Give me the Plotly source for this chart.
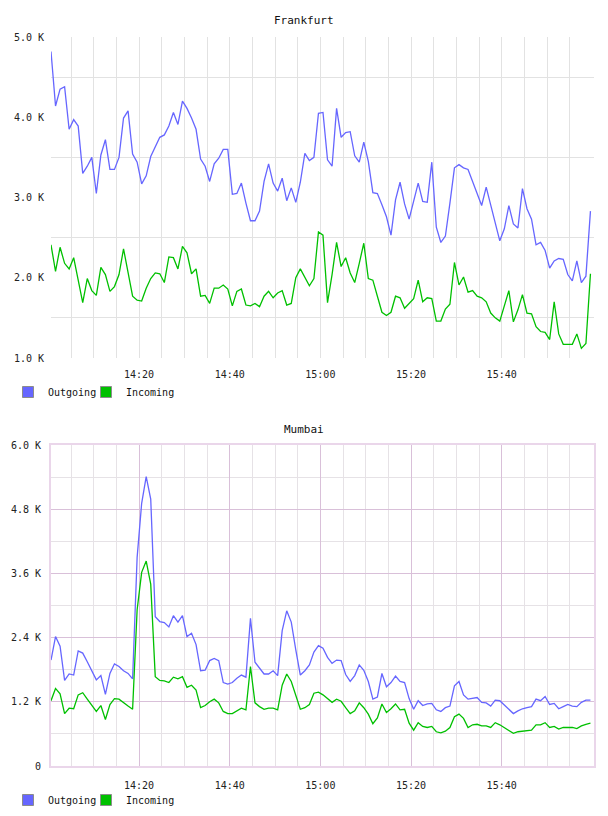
import plotly.graph_objects as go
import pandas as pd

# ---------------- data (values in thousands) ----------------
start_time = "2024-01-01 14:00:35"
n_points = 120
times = pd.date_range(start_time, periods=n_points, freq="1min")

frankfurt_outgoing = [
    4.82, 4.14, 4.35, 4.38, 3.85, 3.97, 3.89, 3.30, 3.39, 3.50,
    3.05, 3.53, 3.72, 3.35, 3.35, 3.50, 3.99, 4.08, 3.54, 3.44,
    3.17, 3.27, 3.51, 3.64, 3.75, 3.78, 3.89, 4.06, 3.91, 4.20,
    4.11, 3.99, 3.85, 3.48, 3.39, 3.20, 3.42, 3.49, 3.60, 3.60,
    3.04, 3.05, 3.18, 2.93, 2.71, 2.71, 2.83, 3.20, 3.42, 3.18,
    3.08, 3.24, 2.96, 3.12, 2.94, 3.19, 3.55, 3.46, 3.50, 4.05,
    4.06, 3.47, 3.39, 4.11, 3.75, 3.81, 3.82, 3.52, 3.44, 3.69,
    3.45, 3.06, 3.05, 2.91, 2.76, 2.53, 2.97, 3.19, 2.92, 2.73,
    2.96, 3.18, 2.95, 2.94, 3.44, 2.63, 2.44, 2.52, 2.93, 3.37,
    3.41, 3.37, 3.35, 3.20, 3.07, 2.90, 3.13, 2.90, 2.68, 2.46,
    2.61, 2.90, 2.67, 2.62, 3.11, 2.86, 2.73, 2.41, 2.44, 2.34,
    2.12, 2.21, 2.24, 2.23, 2.04, 1.96, 2.21, 1.94, 2.02, 2.83,
]
frankfurt_incoming = [
    2.41, 2.08, 2.38, 2.18, 2.11, 2.25, 1.97, 1.69, 1.99, 1.84,
    1.78, 2.13, 2.04, 1.83, 1.89, 2.04, 2.36, 2.06, 1.77, 1.72,
    1.71, 1.87, 1.99, 2.06, 2.05, 1.94, 2.26, 2.25, 2.11, 2.39,
    2.31, 2.05, 2.11, 1.77, 1.78, 1.68, 1.87, 1.87, 1.91, 1.86,
    1.65, 1.83, 1.86, 1.66, 1.65, 1.68, 1.64, 1.77, 1.83, 1.75,
    1.81, 1.84, 1.66, 1.68, 2.00, 2.11, 2.00, 1.90, 1.99, 2.57,
    2.53, 1.69, 2.04, 2.44, 2.14, 2.25, 2.06, 1.94, 2.18, 2.43,
    1.99, 1.97, 1.77, 1.57, 1.53, 1.57, 1.77, 1.75, 1.62, 1.68,
    1.74, 1.97, 1.70, 1.75, 1.74, 1.46, 1.46, 1.61, 1.67, 2.19,
    1.91, 2.01, 1.82, 1.84, 1.77, 1.75, 1.70, 1.56, 1.50, 1.46,
    1.65, 1.84, 1.45, 1.60, 1.79, 1.56, 1.55, 1.39, 1.33, 1.32,
    1.23, 1.70, 1.30, 1.17, 1.17, 1.17, 1.30, 1.12, 1.18, 2.05,
]
mumbai_outgoing = [
    1.98, 2.42, 2.24, 1.60, 1.72, 1.70, 2.15, 2.11, 1.95, 1.79,
    1.61, 1.69, 1.34, 1.73, 1.91, 1.86, 1.78, 1.73, 1.63, 3.90,
    4.91, 5.41, 4.99, 2.79, 2.70, 2.68, 2.60, 2.81, 2.69, 2.81,
    2.42, 2.48, 2.27, 1.78, 1.79, 1.97, 2.01, 1.97, 1.56, 1.53,
    1.56, 1.64, 1.70, 1.66, 2.76, 1.94, 1.83, 1.72, 1.72, 1.78,
    1.69, 2.53, 2.90, 2.69, 2.17, 1.70, 1.78, 1.89, 2.13, 2.25,
    2.20, 2.03, 1.92, 1.98, 1.97, 1.71, 1.58, 1.69, 1.89, 1.79,
    1.58, 1.25, 1.29, 1.73, 1.48, 1.56, 1.68, 1.58, 1.56, 1.26,
    1.06, 1.22, 1.13, 1.16, 1.17, 1.05, 1.02, 1.09, 1.12, 1.50,
    1.58, 1.33, 1.25, 1.26, 1.28, 1.19, 1.18, 1.12, 1.23, 1.22,
    1.14, 1.06, 0.98, 1.03, 1.07, 1.09, 1.11, 1.25, 1.22, 1.30,
    1.15, 1.17, 1.07, 1.11, 1.15, 1.12, 1.11, 1.19, 1.23, 1.23,
]
mumbai_incoming = [
    1.22, 1.45, 1.35, 0.98, 1.08, 1.07, 1.33, 1.37, 1.25, 1.13,
    1.02, 1.13, 0.87, 1.15, 1.26, 1.25, 1.18, 1.12, 1.06, 2.92,
    3.62, 3.83, 3.40, 1.67, 1.60, 1.59, 1.56, 1.66, 1.63, 1.67,
    1.47, 1.51, 1.42, 1.09, 1.13, 1.20, 1.25, 1.18, 1.02, 0.98,
    0.98, 1.03, 1.08, 1.05, 1.86, 1.18, 1.11, 1.06, 1.08, 1.08,
    1.05, 1.51, 1.72, 1.58, 1.30, 1.06, 1.09, 1.15, 1.36, 1.38,
    1.33, 1.26, 1.19, 1.25, 1.21, 1.09, 0.98, 1.03, 1.18, 1.09,
    0.97, 0.79, 0.90, 1.16, 1.00, 1.07, 1.16, 1.05, 1.06, 0.80,
    0.67, 0.81, 0.74, 0.72, 0.74, 0.64, 0.62, 0.65, 0.72, 0.92,
    0.97, 0.89, 0.72, 0.77, 0.78, 0.75, 0.75, 0.72, 0.81, 0.77,
    0.72, 0.67, 0.61, 0.64, 0.65, 0.67, 0.67, 0.77, 0.77, 0.81,
    0.72, 0.74, 0.69, 0.72, 0.72, 0.72, 0.70, 0.75, 0.78, 0.80,
]

series_names = ["Outgoing", "Incoming"]
panel_titles = ["Frankfurt", "Mumbai"]

frankfurt_ticks = [1.0, 2.0, 3.0, 4.0, 5.0]
frankfurt_ticktext = ["1.0 K", "2.0 K", "3.0 K", "4.0 K", "5.0 K"]
frankfurt_minor = [1.5, 2.5, 3.5, 4.5]
mumbai_ticks = [0, 1.2, 2.4, 3.6, 4.8, 6.0]
mumbai_ticktext = ["0", "1.2 K", "2.4 K", "3.6 K", "4.8 K", "6.0 K"]
mumbai_minor = [0.6, 1.8, 3.0, 4.2, 5.4]

time_labels = ["14:20", "14:40", "15:00", "15:20", "15:40"]
time_label_vals = pd.to_datetime(["2024-01-01 " + t for t in time_labels])
time_grid_vals = pd.date_range("2024-01-01 14:05", "2024-01-01 15:55", freq="5min")

x_range = ["2024-01-01 14:00:35", "2024-01-01 16:00:22"]

# ---------------- styling ----------------
BLUE = "#6666FF"
GREEN = "#00C000"
MONO = "DejaVu Sans Mono"
W, H = 608, 816


def py(px):
    return 1 - px / H


fig = go.Figure()

panels = [
    ("x", "y", frankfurt_outgoing, frankfurt_incoming, ("legend", "legend2")),
    ("x2", "y2", mumbai_outgoing, mumbai_incoming, ("legend3", "legend4")),
]
for xa, ya, out_vals, in_vals, legs in panels:
    for name, vals, col in [(series_names[0], out_vals, BLUE), (series_names[1], in_vals, GREEN)]:
        fig.add_trace(go.Scatter(
            x=times, y=vals, mode="lines", name=name,
            line=dict(color=col, width=1.3), xaxis=xa, yaxis=ya,
            showlegend=False, hoverinfo="skip",
        ))
    for name, col, leg in [(series_names[0], BLUE, legs[0]), (series_names[1], GREEN, legs[1])]:
        fig.add_trace(go.Scatter(
            x=[None], y=[None], mode="markers", name=name,
            marker=dict(symbol="square", size=11, color=col,
                        line=dict(color="#8c8c8c", width=1)),
            xaxis=xa, yaxis=ya, legend=leg, showlegend=True,
        ))

xdom = [51 / W, 594 / W]
common_x = dict(
    type="date", range=x_range, domain=xdom,
    tickmode="array", tickvals=time_label_vals, ticktext=time_labels,
    ticks="", zeroline=False, automargin=False,
    tickfont=dict(family=MONO, size=10, color="#222"),
    ticklabelstandoff=9,
)
common_y = dict(
    tickmode="array", zeroline=False, ticks="", automargin=False,
    tickfont=dict(family=MONO, size=10, color="#222"),
    ticklabelstandoff=6,
)


def legend_at(xpx, ypx):
    return dict(
        orientation="h", x=xpx / W, y=py(ypx), xanchor="left", yanchor="middle",
        font=dict(family=MONO, size=10, color="#111"), itemwidth=30,
        bgcolor="rgba(0,0,0,0)",
    )


fig.update_layout(
    width=W, height=H,
    margin=dict(l=0, r=0, t=0, b=0),
    paper_bgcolor="white", plot_bgcolor="white",
    font=dict(family=MONO, size=10, color="#222"),
    xaxis=dict(
        **common_x, anchor="y", showline=False,
        showgrid=True, gridcolor="#e2e2e2", gridwidth=1,
        minor=dict(tickvals=time_grid_vals, showgrid=True,
                   gridcolor="#e2e2e2", gridwidth=1),
    ),
    yaxis=dict(
        **common_y,
        domain=[py(358), py(37)], range=[1.0, 5.0], anchor="x",
        tickvals=frankfurt_ticks, ticktext=frankfurt_ticktext,
        showgrid=False, showline=False,
        minor=dict(tickvals=frankfurt_minor, showgrid=True,
                   gridcolor="#e2e2e2", gridwidth=1),
    ),
    xaxis2=dict(
        **common_x, anchor="y2",
        showgrid=True, gridcolor="#d9c0d9", gridwidth=1,
        minor=dict(tickvals=time_grid_vals, showgrid=True,
                   gridcolor="#e6e2e6", gridwidth=1),
        showline=True, linecolor="#ead6ea", linewidth=2, mirror=True,
    ),
    yaxis2=dict(
        **common_y,
        domain=[py(766), py(445)], range=[0, 6.0], anchor="x2",
        tickvals=mumbai_ticks, ticktext=mumbai_ticktext,
        showgrid=True, gridcolor="#d9c0d9", gridwidth=1,
        showline=True, linecolor="#ead6ea", linewidth=2, mirror=True,
        minor=dict(tickvals=mumbai_minor, showgrid=True,
                   gridcolor="#e6e2e6", gridwidth=1),
    ),
    legend=legend_at(8, 392),
    legend2=legend_at(86, 392),
    legend3=legend_at(8, 800),
    legend4=legend_at(86, 800),
    annotations=[
        dict(text=panel_titles[0], x=0.5, y=py(20), xref="paper", yref="paper",
             showarrow=False, font=dict(family=MONO, size=11, color="#111"),
             xanchor="center", yanchor="middle"),
        dict(text=panel_titles[1], x=0.5, y=py(429), xref="paper", yref="paper",
             showarrow=False, font=dict(family=MONO, size=11, color="#111"),
             xanchor="center", yanchor="middle"),
    ],
    hovermode=False,
)

fig.write_html("out.html")
